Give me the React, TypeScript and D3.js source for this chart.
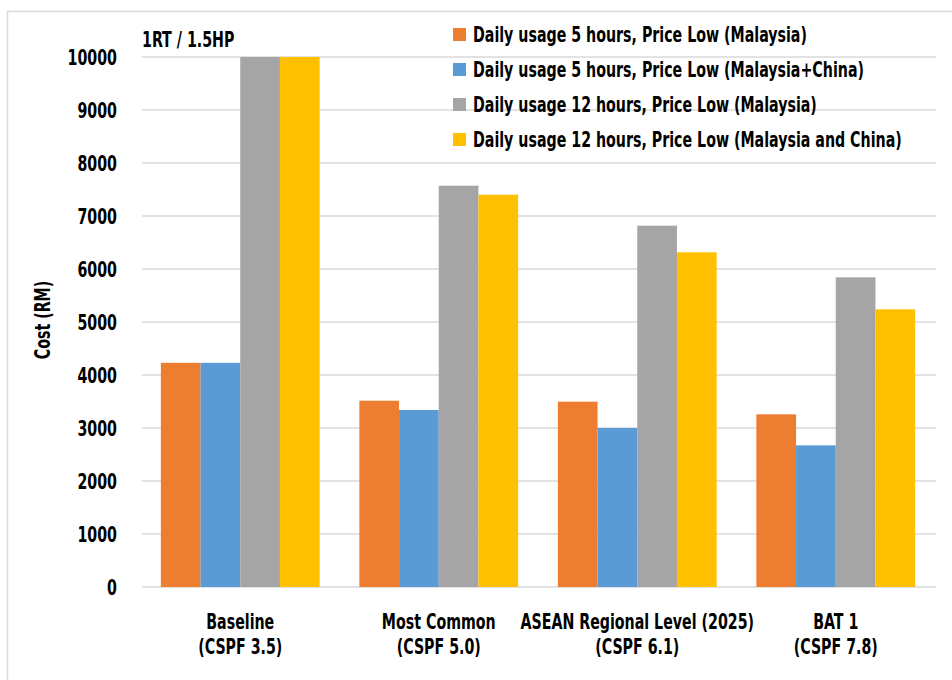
import React from "react";
import * as d3 from "d3";

const categories = [
  ["Baseline", "(CSPF 3.5)"],
  ["Most Common", "(CSPF 5.0)"],
  ["ASEAN Regional Level (2025)", "(CSPF 6.1)"],
  ["BAT 1", "(CSPF 7.8)"],
];
const seriesNames = [
  "Daily usage 5 hours, Price Low (Malaysia)",
  "Daily usage 5 hours, Price Low (Malaysia+China)",
  "Daily usage 12 hours, Price Low (Malaysia)",
  "Daily usage 12 hours, Price Low (Malaysia and China)",
];
const colors = ["#ED7D31", "#5B9BD5", "#A5A5A5", "#FFC000"];
const s5My = [4230, 3515, 3497, 3258];
const s5MyCn = [4230, 3340, 3000, 2673];
const s12My = [10000, 7572, 6817, 5843];
const s12MyCn = [10000, 7402, 6315, 5239];
const seriesValues = [s5My, s5MyCn, s12My, s12MyCn];
const yTicks = [0, 1000, 2000, 3000, 4000, 5000, 6000, 7000, 8000, 9000, 10000];

const FONT = "'DejaVu Sans Condensed', 'DejaVu Sans', sans-serif";
const SX = 0.735;
const FS = 21.5;

function T({ x, y, anchor = "start", rotate = 0, children }: any) {
  return (
    <text
      transform={`translate(${x},${y}) rotate(${rotate}) scale(${SX},1)`}
      textAnchor={anchor}
      fontSize={FS}
      fill="#000"
    >
      {children}
    </text>
  );
}

export default function App() {
  const W = 952, H = 680;
  const plotL = 142, plotR = 936;
  const y = d3.scaleLinear().domain([0, 10000]).range([587, 57]);
  const x = d3
    .scaleBand<number>()
    .domain(categories.map((_, i) => i))
    .range([141, 935])
    .paddingInner(0.2)
    .paddingOuter(0.1);
  const xs = d3
    .scaleBand<number>()
    .domain(seriesNames.map((_, i) => i))
    .range([0, x.bandwidth()])
    .padding(0);

  return (
    <svg
      width={W}
      height={H}
      style={{ position: "absolute", left: 0, top: 0, background: "#fff" }}
      fontFamily={FONT}
      fontWeight="bold"
    >
      <rect x={0} y={0} width={W} height={H} fill="#fff" />
      <rect x={7.5} y={11.5} width={W + 20} height={H + 20} fill="none" stroke="#D9D9D9" strokeWidth={1.5} />
      {yTicks.map((t) => (
        <g key={t}>
          <line x1={plotL} x2={plotR} y1={y(t)} y2={y(t)} stroke="#D9D9D9" strokeWidth={1.6} />
          <T x={117} y={y(t) + 7.8} anchor="end">
            {t}
          </T>
        </g>
      ))}
      {categories.map((c, ci) => (
        <g key={ci} transform={`translate(${x(ci)},0)`}>
          {seriesValues.map((vals, si) => (
            <rect
              key={si}
              x={xs(si)}
              y={y(vals[ci])}
              width={xs.bandwidth()}
              height={y(0) - y(vals[ci])}
              fill={colors[si]}
            />
          ))}
          <T x={x.bandwidth() / 2} y={629} anchor="middle">
            {c[0]}
          </T>
          <T x={x.bandwidth() / 2} y={654} anchor="middle">
            {c[1]}
          </T>
        </g>
      ))}
      <T x={142} y={46.5}>
        1RT / 1.5HP
      </T>
      <T x={50} y={320} anchor="middle" rotate={-90}>
        Cost (RM)
      </T>
      {seriesNames.map((n, i) => (
        <g key={i}>
          <rect x={453} y={28 + 35 * i} width={13} height={13} fill={colors[i]} />
          <T x={473} y={42 + 35 * i}>
            {n}
          </T>
        </g>
      ))}
    </svg>
  );
}
